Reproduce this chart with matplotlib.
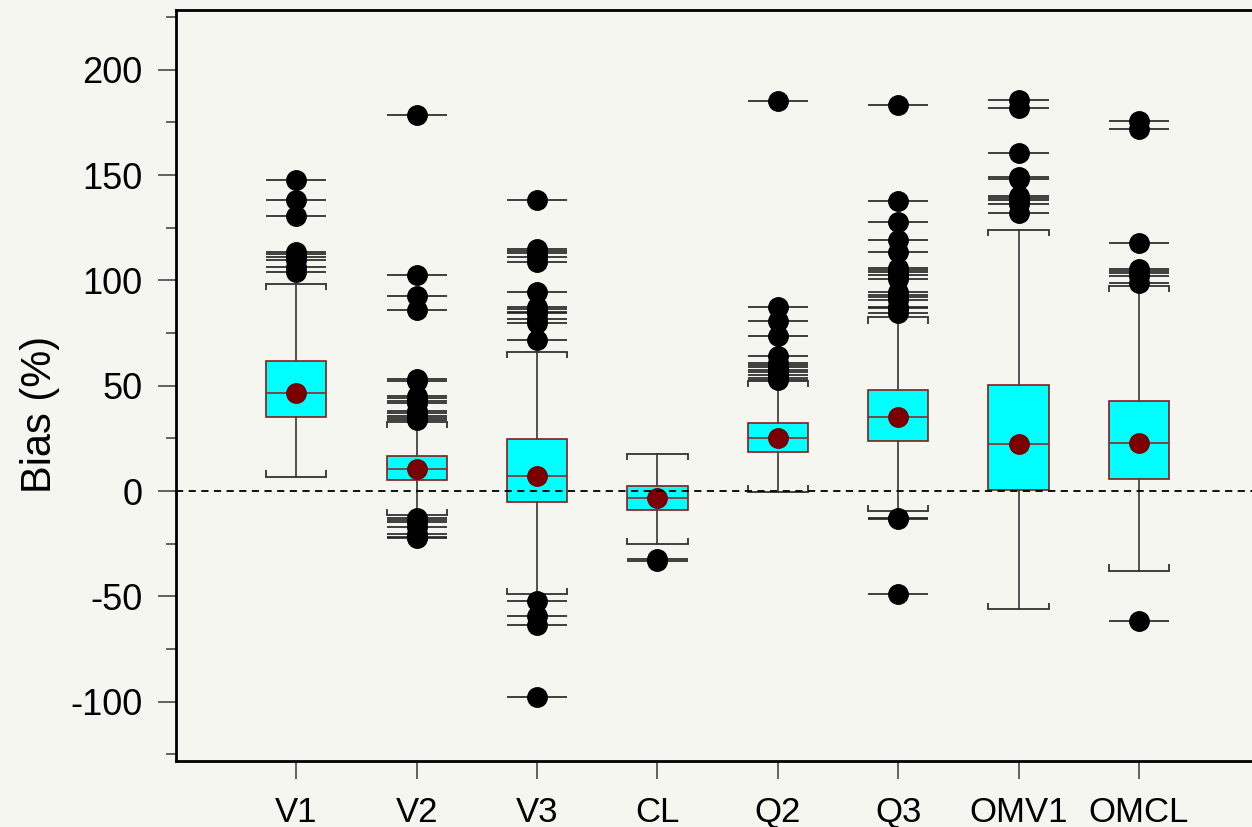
"""Box plots of percentage bias for eight estimators, outliers drawn as dots on tick lines."""

import matplotlib
matplotlib.use("Agg")
import matplotlib.pyplot as plt

plt.rcParams['font.family'] = ['Liberation Sans', 'DejaVu Sans']
plt.rcParams['axes.unicode_minus'] = False

# box statistics
categories = ['V1', 'V2', 'V3', 'CL', 'Q2', 'Q3', 'OMV1', 'OMCL']
q1 = [35.1, 5.2, -5.4, -9.2, 18.7, 23.9, 0.5, 5.5]
medians = [46.4, 10.4, 7.3, -3.3, 25.0, 35.0, 22.2, 22.6]
q3 = [61.5, 16.6, 24.5, 2.4, 32.1, 47.9, 50.2, 42.7]
means = [46.4, 10.4, 7.3, -3.3, 25.0, 35.0, 22.2, 22.6]
whisker_lo = [6.8, -11.4, -48.9, -25.3, -0.3, -9.5, -56.0, -37.8]
whisker_hi = [98.4, 32.9, 66.0, 17.7, 52.4, 82.5, 123.9, 97.4]

outliers = [
    [147.8, 138.0, 130.8, 113.6, 112.5, 110.9, 109.6, 106.5, 104.1],
    [102.5, 92.4, 86.0, 53.3, 52.4, 45.2, 44.0, 42.9, 41.6, 38.0, 36.9,
     35.7, 34.8, 33.7, 178.5,
     -13.0, -13.8, -14.6, -16.9, -20.6, -21.7, -22.5],
    [138.0, 115.0, 114.1, 112.8, 110.9, 108.8, 94.6, 87.2, 86.4, 85.1,
     84.3, 81.5, 79.6, 71.7,
     -52.1, -59.2, -63.6, -97.6],
    [-32.4, -33.0],
    [185.4, 87.5, 80.5, 73.7, 64.1, 60.9, 59.8, 58.7, 57.4, 56.3, 55.1,
     53.5, 52.9],
    [183.4, 137.5, 127.8, 119.0, 113.4, 105.7, 104.9, 103.8, 102.5, 100.9,
     94.3, 93.0, 91.9, 90.9, 87.5, 86.7, 84.3,
     -12.8, -13.4, -48.9],
    [185.7, 181.8, 160.3, 148.9, 148.1, 140.0, 139.2, 138.1, 136.1, 131.8],
    [175.8, 171.8, 117.6, 105.2, 104.4, 103.3, 102.0, 98.9, -61.9],
]

BG = '#f6f6f0'
BOX_W = 0.5

stats = []
for i, name in enumerate(categories):
    stats.append(dict(label=name, q1=q1[i], med=medians[i], q3=q3[i],
                      mean=means[i], whislo=whisker_lo[i], whishi=whisker_hi[i],
                      fliers=outliers[i]))

fig = plt.figure(figsize=(12.52, 8.27), dpi=100, facecolor=BG)
ax = fig.add_axes([0.1406, 0.0798, 0.8594, 0.9081])
ax.set_facecolor(BG)

positions = list(range(1, len(categories) + 1))

# horizontal line through every outlier, under the dots
for pos, vals in zip(positions, outliers):
    ax.hlines(vals, pos - BOX_W / 2, pos + BOX_W / 2, color='#202020',
              lw=1.2, zorder=2)

ax.bxp(stats, positions=positions, widths=BOX_W, capwidths=BOX_W,
       patch_artist=True, showmeans=True,
       boxprops=dict(facecolor='#00ffff', edgecolor='#8b1a1a', lw=1.2),
       medianprops=dict(color='#8b2a2a', lw=1.2),
       whiskerprops=dict(color='#444444', lw=1.3),
       capprops=dict(color='#333333', lw=1.3),
       meanprops=dict(marker='o', markerfacecolor='#7a0000',
                      markeredgecolor='#7a0000', markersize=14),
       flierprops=dict(marker='o', markerfacecolor='black',
                       markeredgecolor='black', markersize=14),
       zorder=3)

# little bracket ends on the caps, pointing toward the box
for pos, lo, hi in zip(positions, whisker_lo, whisker_hi):
    for dx in (-BOX_W / 2, BOX_W / 2):
        ax.vlines(pos + dx, hi - 3.0, hi, color='#333333', lw=1.3, zorder=3)
        ax.vlines(pos + dx, lo, lo + 3.0, color='#333333', lw=1.3, zorder=3)

ax.axhline(0, color='black', lw=1.3, ls=(0, (4, 3)), zorder=4)

ax.set_xlim(0, 8.94)
ax.set_ylim(-128.2, 228.4)
ax.set_yticks([-100, -50, 0, 50, 100, 150, 200])
ax.set_yticks([-125, -75, -25, 25, 75, 125, 175, 225], minor=True)
ax.set_xticks(positions)
ax.set_xticklabels(categories)

ax.tick_params(axis='y', which='major', length=13, width=1.3, color='#555555',
               labelsize=26, pad=11)
ax.tick_params(axis='y', which='minor', length=7, width=1.3, color='#555555')
ax.tick_params(axis='x', which='major', length=13, width=1.3, color='#555555',
               labelsize=25, pad=12)

for side in ('left', 'bottom', 'top'):
    ax.spines[side].set_linewidth(2)
    ax.spines[side].set_color('black')
ax.spines['right'].set_visible(False)

ax.set_ylabel('Bias (%)', fontsize=30)
ax.yaxis.set_label_coords(-0.108, 0.462)

fig.savefig('out.png', dpi=100, facecolor=BG)
